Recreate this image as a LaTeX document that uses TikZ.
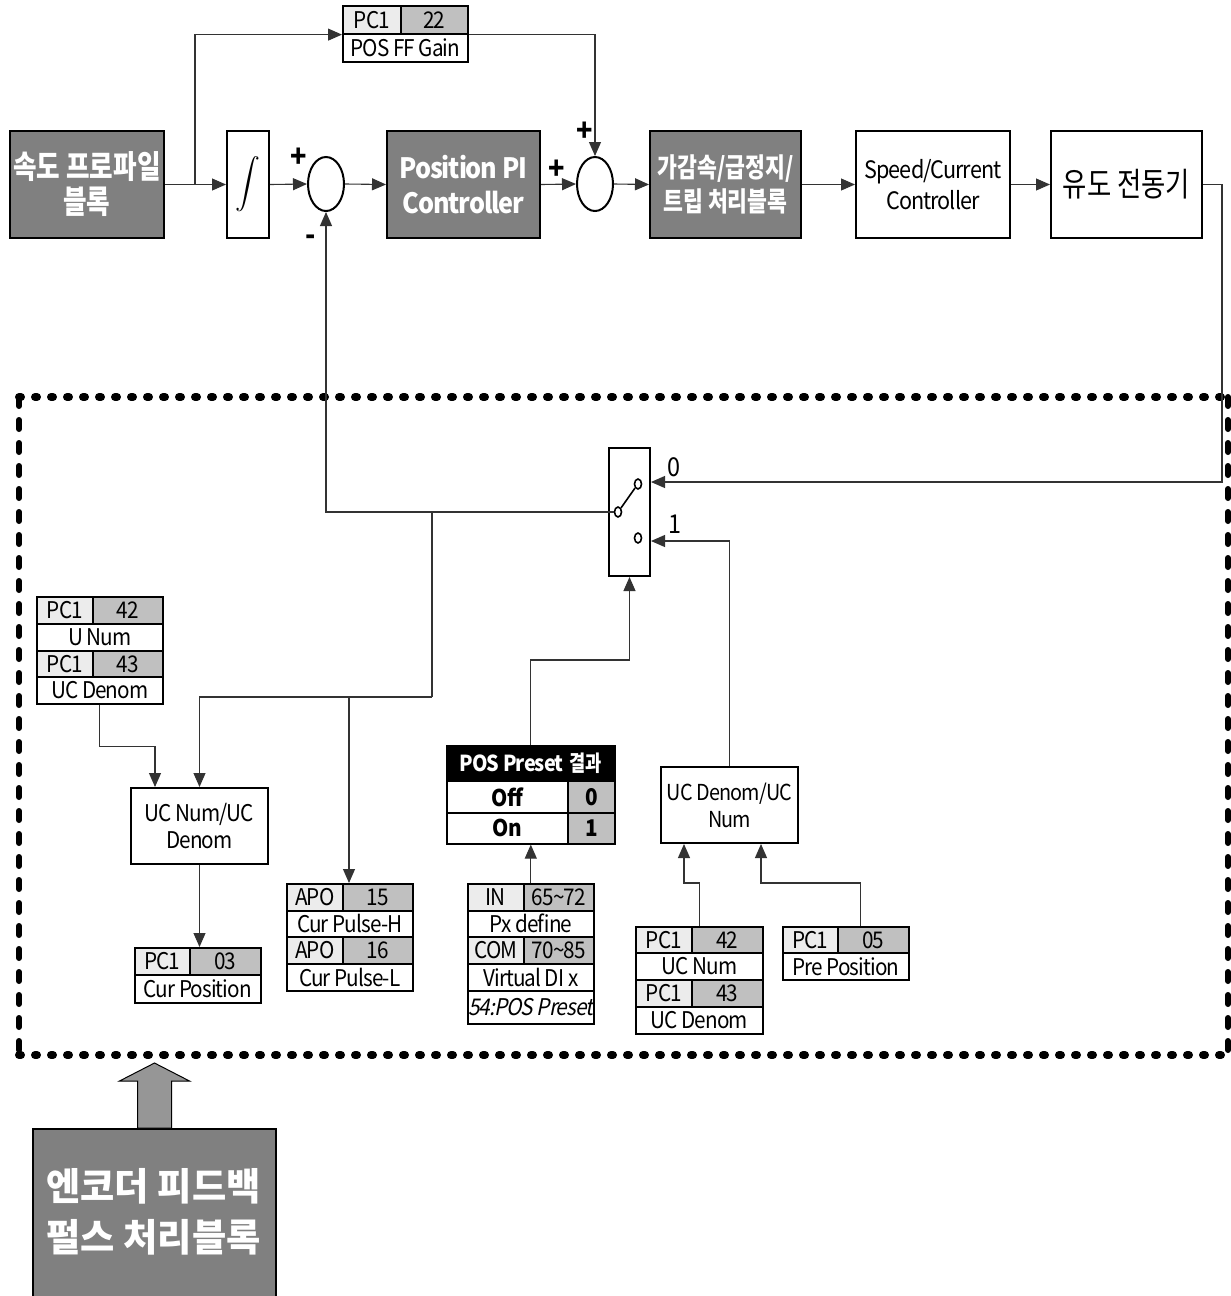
\documentclass[tikz,border=0pt]{standalone}
\usepackage{fontspec}
\usepackage{exscale}
\setmainfont{Noto Sans CJK KR}[FakeStretch=0.9,LetterSpace=-4]
\newfontfamily\kr{Noto Sans CJK KR}[FakeStretch=0.8]
\newfontfamily\krE{Noto Sans CJK KR}[FakeStretch=0.98]
\newfontfamily\itf{Noto Sans CJK KR}[FakeStretch=0.9,LetterSpace=-4,FakeSlant=0.2]
\usetikzlibrary{arrows.meta,shapes.geometric,calc}
\definecolor{boxgray}{RGB}{128,128,128}
\definecolor{cellL}{RGB}{236,236,236}
\definecolor{cellG}{RGB}{192,192,192}
\definecolor{arrgray}{RGB}{150,150,150}
\newcommand\tcell[7]{\node[cell,#6,minimum width=#4pt,minimum height=#5pt] (#1) at (#2,#3) {#7};}
\begin{document}
\begin{tikzpicture}[x=1pt,y=-1pt,
  blk/.style={draw=black,line width=2pt,fill=white,inner sep=0pt,anchor=north west,align=center},
  dark/.style={blk,fill=boxgray,text=white},
  con/.style={draw=black!80,line width=1.1pt,-{Triangle[length=14pt,width=12pt]}},
  ln/.style={draw=black!80,line width=1.1pt},
  cell/.style={draw=black,line width=1.6pt,inner sep=0pt,anchor=north west,font=\fontsize{23}{26}\selectfont},
  cl/.style={fill=cellL},
  cg/.style={fill=cellG},
  cw/.style={fill=white},
  sumnode/.style={draw=black,ellipse,line width=2pt,minimum width=36pt,minimum height=54pt,inner sep=0pt},
  pin/.style={draw=black,ellipse,line width=1.6pt,minimum width=7pt,minimum height=10pt,inner sep=0pt},
  sign/.style={font=\bfseries\fontsize{30}{30}\selectfont,inner sep=0pt}
]
\useasboundingbox (0,0) rectangle (1231,1296);

% ---------- top row ----------
\node[dark,minimum width=154pt,minimum height=107pt,font=\kr\bfseries\fontsize{32}{35}\selectfont] (speed) at (9,130)
  {속도 프로파일\\블록};
\node[blk,minimum width=42pt,minimum height=107pt,font=\fontsize{23}{23}\selectfont] (integ) at (226,130)
  {$\displaystyle\int$};
\node[sumnode] (s1) at (326,184) {};
\node[dark,minimum width=153pt,minimum height=107pt,font=\bfseries\fontsize{28}{35}\selectfont] (pi) at (386,130)
  {Position PI\\Controller};
\node[sumnode] (s2) at (595,184) {};
\node[dark,minimum width=151pt,minimum height=107pt,font=\kr\bfseries\fontsize{27}{34}\selectfont] (acc) at (649,130)
  {가감속/급정지/\\트립 처리블록};
\node[blk,minimum width=154pt,minimum height=107pt,font=\fontsize{24}{31}\selectfont] (sc) at (855,130)
  {Speed/Current\\Controller};
\node[blk,minimum width=151pt,minimum height=107pt,font=\kr\fontsize{33}{36}\selectfont] (mot) at (1050,130)
  {유도 전동기};

\node[sign] (p1) at (299,158) {+};
\node[sign] (m1) at (311,240) {-};
\node[sign] (p2) at (557,170) {+};
\node[sign] (p3) at (585,132) {+};

% FF gain table
\tcell{ffA}{342}{5}{58}{28}{cl}{PC1}
\tcell{ffB}{400}{5}{67}{28}{cg}{22}
\tcell{ffC}{342}{33}{125}{28}{cw}{POS FF Gain}

\draw[con] (speed.east) -- (integ.west);
\draw[con] (integ.east) -- (s1.west);
\draw[con] (s1.east) -- (pi.west);
\draw[con] (pi.east) -- (s2.west);
\draw[con] (s2.east) -- (acc.west);
\draw[con] (acc.east) -- (sc.west);
\draw[con] (sc.east) -- (mot.west);
\coordinate (b1) at (195,184);
\draw[con] (b1) |- (ffA.south west);
\draw[con] (ffB.south east) -| (s2.north);

% ---------- dashed frame ----------
\draw[line width=8pt,line cap=round,dash pattern=on 2pt off 14pt] (19,397) -- (1228,397);
\draw[line width=8pt,line cap=round,dash pattern=on 2pt off 14pt] (19,1055) -- (1228,1055);
\draw[line width=6pt,line cap=round,dash pattern=on 9pt off 14pt] (19,397) -- (19,1055);
\draw[line width=6pt,line cap=round,dash pattern=on 9pt off 14pt] (1228,397) -- (1228,1055);

% ---------- switch ----------
\node[blk,minimum width=41pt,minimum height=128pt] (sw) at (608,447) {};
\node[pin] (c0) at (618,512) {};
\node[pin] (c1) at (638,484) {};
\node[pin] (c2) at (638,538) {};
\draw[black,line width=1.6pt] (c0.north east) -- (c1.south west);
\node[font=\fontsize{26}{26}\selectfont,inner sep=0pt] (l0) at (674,467) {0};
\node[font=\fontsize{26}{26}\selectfont,inner sep=0pt] (l1) at (675,524) {1};

\draw[con] (mot.east) -- ++(19,0) |- ($(sw.north east)+(0,35)$);
\draw[con] (c0.west) -| (s1.south);

% ---------- left part ----------
\tcell{ltA}{36}{596}{56}{27}{cl}{PC1}
\tcell{ltB}{92}{596}{70}{27}{cg}{42}
\tcell{ltC}{36}{623}{126}{27}{cw}{U Num}
\tcell{ltE}{36}{650}{56}{26}{cl}{PC1}
\tcell{ltF}{92}{650}{70}{26}{cg}{43}
\tcell{ltD}{36}{676}{126}{27}{cw}{UC Denom}

\node[blk,minimum width=137pt,minimum height=76pt,font=\fontsize{23}{27}\selectfont] (ucnd) at (130,787)
  {UC Num/UC\\Denom};

\tcell{cpA}{134}{947}{55}{27}{cl}{PC1}
\tcell{cpB}{189}{947}{71}{27}{cg}{03}
\tcell{cpC}{134}{974}{126}{28}{cw}{Cur Position}

\tcell{apA}{286}{883}{56}{27}{cl}{APO}
\tcell{apB}{342}{883}{70}{27}{cg}{15}
\tcell{apC}{286}{910}{126}{26}{cw}{Cur Pulse-H}
\tcell{apD}{286}{936}{56}{27}{cl}{APO}
\tcell{apE}{342}{936}{70}{27}{cg}{16}
\tcell{apF}{286}{963}{126}{27}{cw}{Cur Pulse-L}

\coordinate (j1) at (432,512);
\coordinate (j2) at (432,697);
\coordinate (j3) at (349,697);
\draw[ln] (j1) -- (j2);
\draw[con] (j2) -| (ucnd.north);
\draw[con] (j3) -- (j3 |- apB.north);
\draw[con] (ltD.south) -- ++(0,42) -| ($(ucnd.north west)+(25,0)$);
\draw[con] (ucnd.south) -- (ucnd.south |- cpA.north);

% ---------- POS preset ----------
\node[cell,fill=black,text=white,minimum width=168pt,minimum height=35pt,font=\bfseries\fontsize{22}{24}\selectfont] (posH) at (446,745) {POS Preset\hspace{6pt}{\kr 결과}};
\tcell{posOff}{446}{780}{121}{32}{cw,font=\bfseries\fontsize{23}{26}\selectfont}{Off}
\tcell{pos0}{567}{780}{47}{32}{cg,font=\bfseries\fontsize{23}{26}\selectfont}{0}
\tcell{posOn}{446}{812}{121}{31}{cw,font=\bfseries\fontsize{23}{26}\selectfont}{On}
\tcell{pos1}{567}{812}{47}{31}{cg,font=\bfseries\fontsize{23}{26}\selectfont}{1}

\tcell{inA}{467}{883}{56}{27}{cl}{IN}
\tcell{inB}{523}{883}{70}{27}{cg}{65\textasciitilde 72}
\tcell{inC}{467}{910}{126}{26}{cw}{Px define}
\tcell{inD}{467}{936}{56}{27}{cl}{COM}
\tcell{inE}{523}{936}{70}{27}{cg}{70\textasciitilde 85}
\tcell{inF}{467}{963}{126}{27}{cw}{Virtual DI x}
\tcell{inG}{467}{990}{126}{33}{cw,font=\itf\fontsize{23}{26}\selectfont}{54:POS Preset}

\draw[con] (inC.center |- inA.north) -- (inC.center |- posOn.south);
\draw[con] (posH.north) -- ++(0,-85) -| (sw.south);

% ---------- right part ----------
\node[blk,minimum width=137pt,minimum height=76pt,font=\fontsize{22}{27}\selectfont] (ucdn) at (660,766)
  {UC Denom/UC\\Num};

\tcell{rtA}{635}{926}{56}{26}{cl}{PC1}
\tcell{rtB}{691}{926}{71}{26}{cg}{42}
\tcell{rtC}{635}{952}{127}{27}{cw}{UC Num}
\tcell{rtD}{635}{979}{56}{27}{cl}{PC1}
\tcell{rtE}{691}{979}{71}{27}{cg}{43}
\tcell{rtF}{635}{1006}{127}{27}{cw}{UC Denom}

\tcell{ppA}{782}{926}{55}{26}{cl}{PC1}
\tcell{ppB}{837}{926}{71}{26}{cg}{05}
\tcell{ppC}{782}{952}{126}{27}{cw}{Pre Position}

\draw[con] (ucdn.north) |- ($(sw.north east)+(0,94)$);
\draw[con] (rtC.center |- rtA.north) -- ++(0,-43) -| ($(ucdn.south west)+(24,0)$);
\draw[con] ($(ppA.north east)+(22,0)$) -- ++(0,-43) -| ($(ucdn.south west)+(101,0)$);

% ---------- encoder block ----------
\node[dark,minimum width=243pt,minimum height=172pt] (enc) at (32,1128) {};
\node[text=white,align=center,font=\krE\bfseries\fontsize{38}{51}\selectfont] (enct) at (153.5,1212) {엔코더 피드백\\펄스 처리블록};
\draw[draw=black,line width=1pt,fill=arrgray]
  ($(enc.north)+(-17,0)$) -- ++(0,-47) -- ++(-18,0) -- ++(35,-18) -- ++(35,18) -- ++(-18,0) -- ++(0,47) -- cycle;
\end{tikzpicture}
\end{document}
